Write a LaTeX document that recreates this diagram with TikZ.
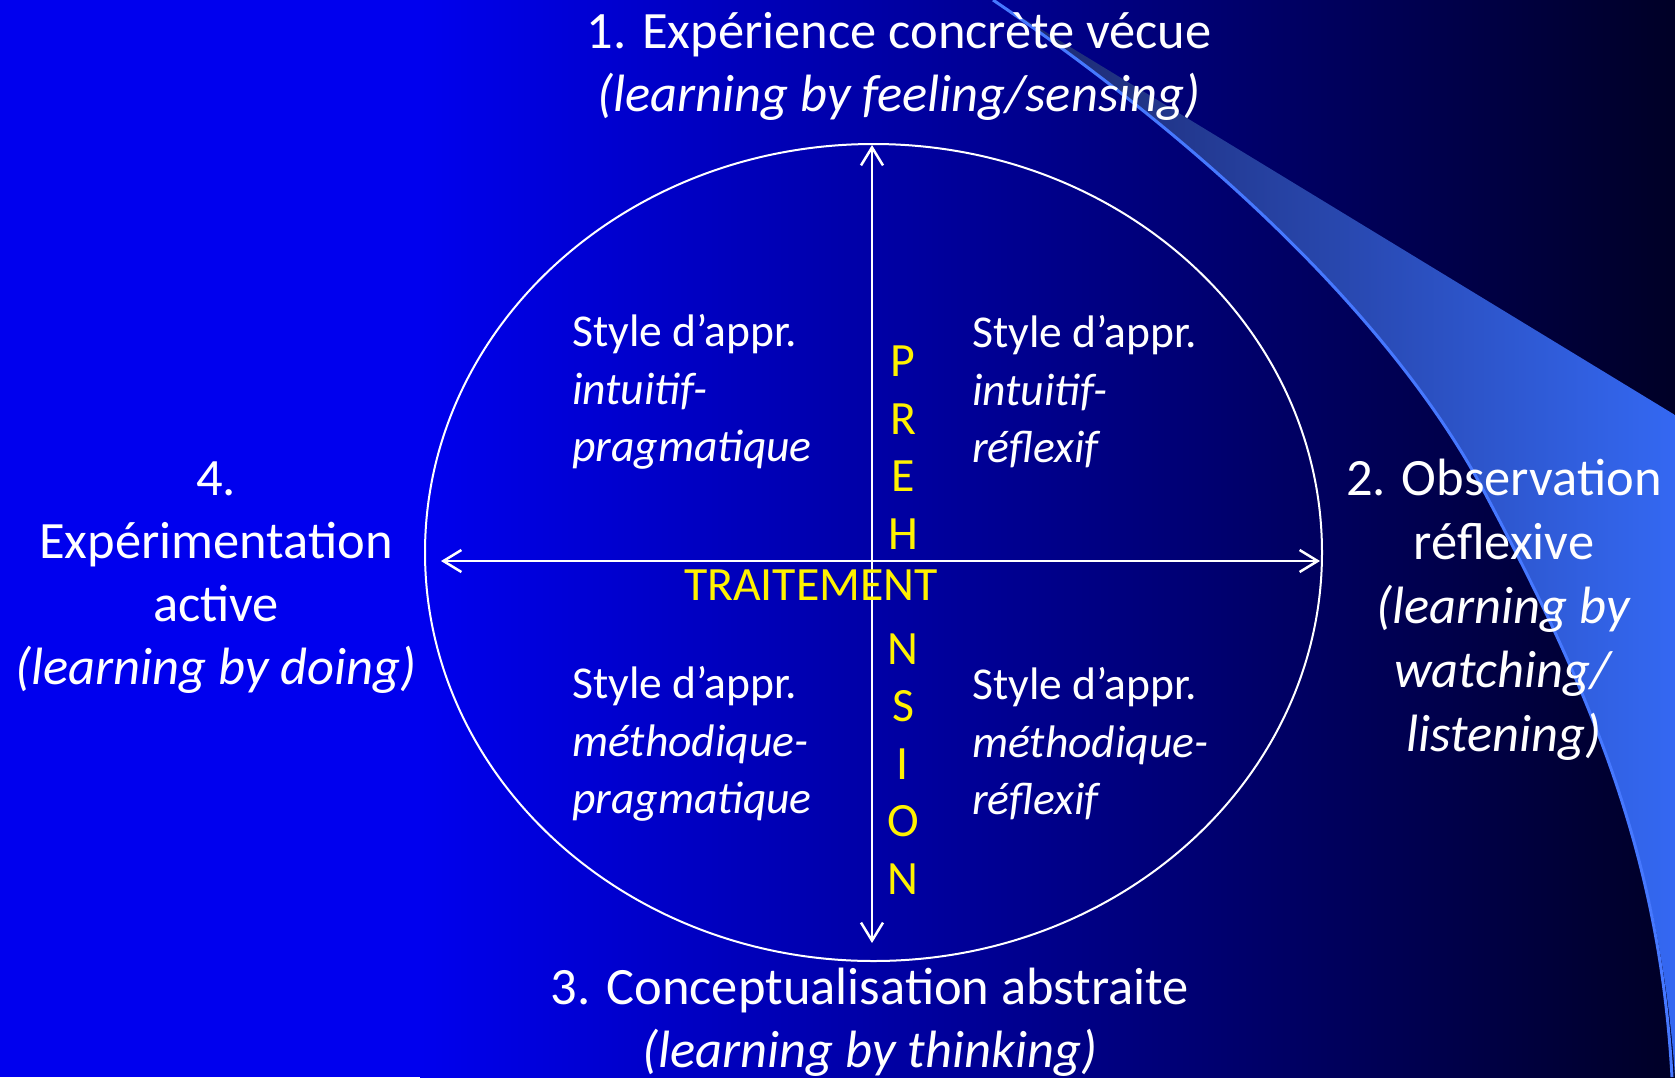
\documentclass[tikz,border=0pt]{standalone}
\usepackage{fontspec}
\setmainfont{Carlito}
\usetikzlibrary{arrows.meta,shapes.geometric}

\definecolor{bgblue}{RGB}{0,0,238}
\definecolor{bgdark}{RGB}{0,0,38}
\definecolor{swdark}{RGB}{28,38,105}
\definecolor{swlight}{RGB}{52,104,242}
\definecolor{swedge}{RGB}{70,120,255}

\begin{document}
\begin{tikzpicture}[x=1pt, y=-1pt,
    mainlbl/.style={text=white, align=center, inner sep=0pt,
        font=\fontsize{52.5}{63}\selectfont},
    quad/.style={text=white, align=left, anchor=west, inner sep=0pt,
        font=\fontsize{45.6}{57.5}\selectfont},
    axislbl/.style={text=yellow, align=center, inner sep=0pt,
        font=\fontsize{47.8}{57.5}\selectfont},
    arr/.style={draw=white, line width=2.5pt,
        {Straight Barb[length=18pt, width=22pt]}-{Straight Barb[length=18pt, width=22pt]}}]
            \useasboundingbox (0,0) rectangle (1675,1077);
            % background and swoosh
            \fill[bgblue] (0,0) rectangle (1675,1077);
            \shade[left color=bgblue, right color=bgdark] (420,0) rectangle (1675,1077);
            \shade[left color=swdark, right color=swlight] (993,0) -- (1675,415) -- (1675,1077)
                .. controls (1660,860) and (1595,700) .. (1487,497)
                .. controls (1395,320) and (1200,140) .. (993,0) -- cycle;
            \draw[swedge, line width=3pt] (993,0) .. controls (1200,140) and (1395,320) .. (1487,497)
                .. controls (1595,700) and (1660,860) .. (1672,1077);

            \node[draw=white, line width=2pt, ellipse, inner sep=0pt, outer sep=0pt,
                minimum width=897pt, minimum height=817pt] (wheel) at (873.5,552.5) {};

            \coordinate (top) at (872,145);
            \coordinate (bot) at (872,943);
            \coordinate (lft) at (441,561);
            \coordinate (rgt) at (1320,561);
            \draw[arr] (top) -- (bot);
            \draw[arr] (lft) -- (rgt);

            \node[mainlbl] (exp) at (899,66) {1. Expérience concrète vécue\\\textit{(learning by feeling/sensing)}};
            \node[mainlbl, font=\fontsize{52.5}{64}\selectfont] (obs) at (1504,610) {2. Observation\\réflexive\\\textit{(learning by}\\\textit{watching/}\\\textit{listening)}};
            \node[mainlbl] (con) at (870,1022) {3. Conceptualisation abstraite\\\textit{(learning by thinking)}};
            \node[mainlbl] (act) at (216,578) {4.\\Expérimentation\\active\\\textit{(learning by doing)}};

            \node[quad] (ip) at (572,392) {Style d’appr.\\\textit{intuitif-}\\\textit{pragmatique}};
            \node[quad] (ir) at (972,392) {Style d’appr.\\\textit{intuitif-}\\\textit{réflexif}};
            \node[quad] (mp) at (572,744) {Style d’appr.\\\textit{méthodique-}\\\textit{pragmatique}};
            \node[quad] (mr) at (972,744) {Style d’appr.\\\textit{méthodique-}\\\textit{réflexif}};

            \node[axislbl] (prehension) at (903,620) {P\\R\\E\\H\\\mbox{}\\N\\S\\I\\O\\N};
            \node[axislbl] (traitement) at (811,585) {TRAITEMENT};
        \end{tikzpicture}
\end{document}
